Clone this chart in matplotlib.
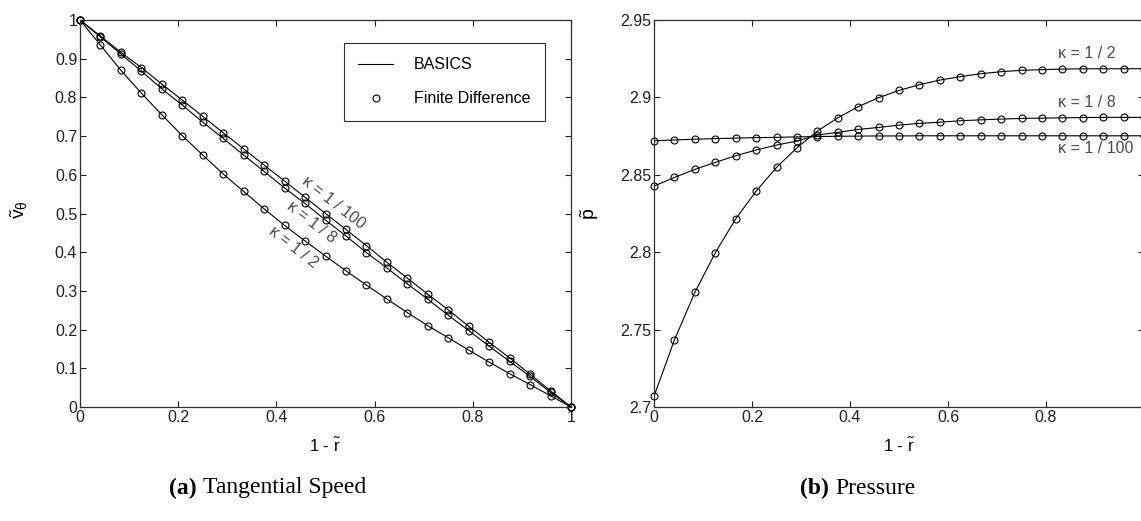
"""
Tangential speed and pressure profiles across the gap, BASICS vs finite difference.
"""

import matplotlib

matplotlib.use("Agg")
import matplotlib.pyplot as plt
from matplotlib.lines import Line2D

# --- data -------------------------------------------------------------

# 25 grid stations in 1 - r~, spacing 1/24
X_STATIONS = [i / 24 for i in range(25)]

# tangential speed v~_theta for each kappa
V_KAPPA_100 = [1.0, 0.9586, 0.9165, 0.877, 0.8345, 0.793, 0.751, 0.7086, 0.667,
               0.625, 0.5837, 0.542, 0.500, 0.4587, 0.417, 0.374, 0.333, 0.2914,
               0.251, 0.2087, 0.167, 0.127, 0.0846, 0.042, 0.0]
V_KAPPA_8 = [1.0, 0.956, 0.912, 0.868, 0.822, 0.780, 0.736, 0.694, 0.651,
             0.6087, 0.566, 0.526, 0.483, 0.442, 0.399, 0.3595, 0.318, 0.2785,
             0.237, 0.1975, 0.157, 0.118, 0.079, 0.038, 0.0]
V_KAPPA_2 = [1.0, 0.935, 0.870, 0.811, 0.755, 0.701, 0.651, 0.602, 0.557,
             0.512, 0.469, 0.429, 0.390, 0.352, 0.315, 0.279, 0.244, 0.210,
             0.179, 0.147, 0.116, 0.086, 0.058, 0.029, 0.0]

# pressure p~ for each kappa
P_KAPPA_100 = [2.8720, 2.8725, 2.8730, 2.8734, 2.8737, 2.8740, 2.8742, 2.8745,
               2.8747, 2.8749, 2.8750, 2.8751, 2.8751, 2.8752, 2.8752, 2.8752,
               2.8752, 2.8752, 2.8752, 2.8752, 2.8752, 2.8752, 2.8752, 2.8752,
               2.8752]
P_KAPPA_8 = [2.8427, 2.8483, 2.8535, 2.8580, 2.8623, 2.8660, 2.8692, 2.8718,
             2.8757, 2.8774, 2.8793, 2.8806, 2.8821, 2.8832, 2.8840, 2.8849,
             2.8855, 2.8860, 2.8864, 2.8866, 2.8868, 2.8870, 2.8871, 2.8871,
             2.8871]
P_KAPPA_2 = [2.7069, 2.7433, 2.7740, 2.7996, 2.8215, 2.8394, 2.8548, 2.8674,
             2.8782, 2.8868, 2.8940, 2.8998, 2.9045, 2.9082, 2.9112, 2.9134,
             2.9153, 2.9166, 2.9175, 2.9179, 2.9183, 2.9185, 2.9185, 2.9185,
             2.9186]

KAPPA_LABELS = ["\u03ba = 1 / 100", "\u03ba = 1 / 8", "\u03ba = 1 / 2"]

V_TICKS = [0, 0.1, 0.2, 0.3, 0.4, 0.5, 0.6, 0.7, 0.8, 0.9, 1]
V_TICK_LABELS = ["0", "0.1", "0.2", "0.3", "0.4", "0.5", "0.6", "0.7", "0.8", "0.9", "1"]
P_TICKS = [2.7, 2.75, 2.8, 2.85, 2.9, 2.95]
P_TICK_LABELS = ["2.7", "2.75", "2.8", "2.85", "2.9", "2.95"]
X_TICKS = [0, 0.2, 0.4, 0.6, 0.8, 1]
X_TICK_LABELS = ["0", "0.2", "0.4", "0.6", "0.8", "1"]
# the pressure panel runs to the page edge, so its last label is left off
P_X_TICK_LABELS = ["0", "0.2", "0.4", "0.6", "0.8", ""]

# --- style ------------------------------------------------------------

plt.rcParams["font.family"] = ["Liberation Sans", "DejaVu Sans"]
plt.rcParams["mathtext.fontset"] = "custom"
plt.rcParams["mathtext.rm"] = "Liberation Sans"
plt.rcParams["mathtext.it"] = "Liberation Sans"
plt.rcParams["font.size"] = 11.5

LINE_KW = dict(color="black", lw=0.8)
MARK_KW = dict(ls="none", marker="o", ms=5, mfc="none", mec="black", mew=0.8)
LABEL_GREY = "#4a4a4a"


def style_axes(ax):
    for side in ax.spines.values():
        side.set_linewidth(0.9)
        side.set_color("#303030")
    ax.tick_params(direction="in", length=4, width=0.8, top=True, right=True,
                   labelsize=11.5, pad=2, colors="#202020")


W, H = 1141, 521
fig = plt.figure(figsize=(W / 100, H / 100), dpi=100)

ax_v = fig.add_axes([80 / W, 1 - 407 / H, 491 / W, 387 / H])
ax_p = fig.add_axes([654 / W, 1 - 407 / H, 490 / W, 387 / H])

# --- (a) tangential speed ---------------------------------------------

for series in (V_KAPPA_100, V_KAPPA_8, V_KAPPA_2):
    ax_v.plot(X_STATIONS, series, **LINE_KW)
    ax_v.plot(X_STATIONS, series, clip_on=False, **MARK_KW)

ax_v.set_xlim(0, 1)
ax_v.set_ylim(0, 1)
ax_v.set_xticks(X_TICKS, X_TICK_LABELS)
ax_v.set_yticks(V_TICKS, V_TICK_LABELS)
ax_v.set_xlabel(r"1 - $\tilde{\mathrm{r}}$", labelpad=9, fontsize=12)
ax_v.set_ylabel(r"$\tilde{\mathrm{v}}_\theta$", fontsize=14)
ax_v.yaxis.set_label_coords(-0.102, 0.51)
style_axes(ax_v)

for label, (tx, ty) in zip(KAPPA_LABELS, [(0.517, 0.529), (0.4725, 0.478), (0.434, 0.413)]):
    ax_v.text(tx, ty, label, rotation=-38, rotation_mode="anchor",
              ha="center", va="center", color=LABEL_GREY, fontsize=11.5)

handles = [Line2D([], [], **LINE_KW), Line2D([], [], **MARK_KW)]
leg = ax_v.legend(handles, ["BASICS", "Finite Difference"], loc="upper right",
                  bbox_to_anchor=(0.947, 0.941), fancybox=False, framealpha=1,
                  edgecolor="#303030", handlelength=2.2, handletextpad=1.3,
                  labelspacing=1.2, borderpad=0.9, borderaxespad=0, numpoints=1,
                  fontsize=11.5)
leg.get_frame().set_linewidth(0.8)

# --- (b) pressure ---------------------------------------------------------

for series in (P_KAPPA_100, P_KAPPA_8, P_KAPPA_2):
    ax_p.plot(X_STATIONS, series, **LINE_KW)
    ax_p.plot(X_STATIONS, series, clip_on=False, **MARK_KW)

ax_p.set_xlim(0, 1)
ax_p.set_ylim(2.7, 2.95)
ax_p.set_xticks(X_TICKS, P_X_TICK_LABELS)
ax_p.set_yticks(P_TICKS, P_TICK_LABELS)
ax_p.set_xlabel(r"1 - $\tilde{\mathrm{r}}$", labelpad=9, fontsize=12)
ax_p.set_ylabel(r"$\tilde{\mathrm{p}}$", fontsize=14)
ax_p.yaxis.set_label_coords(-0.108, 0.50)
style_axes(ax_p)

for label, ty in zip(KAPPA_LABELS, [2.867, 2.8965, 2.9285]):
    ax_p.text(0.824, ty, label, ha="left", va="center",
              color=LABEL_GREY, fontsize=11.5)

# --- sub-captions ---------------------------------------------------------

cap_y = 1 - 488 / H
fig.text(197 / W, cap_y, "(a)", ha="right", va="center",
         family="Liberation Serif", weight="bold", fontsize=17)
fig.text(203 / W, cap_y, "Tangential Speed", ha="left", va="center",
         family="Liberation Serif", fontsize=17)
fig.text(829 / W, cap_y, "(b)", ha="right", va="center",
         family="Liberation Serif", weight="bold", fontsize=17)
fig.text(835 / W, cap_y, "Pressure", ha="left", va="center",
         family="Liberation Serif", fontsize=17)

fig.savefig("out.png", dpi=100)
